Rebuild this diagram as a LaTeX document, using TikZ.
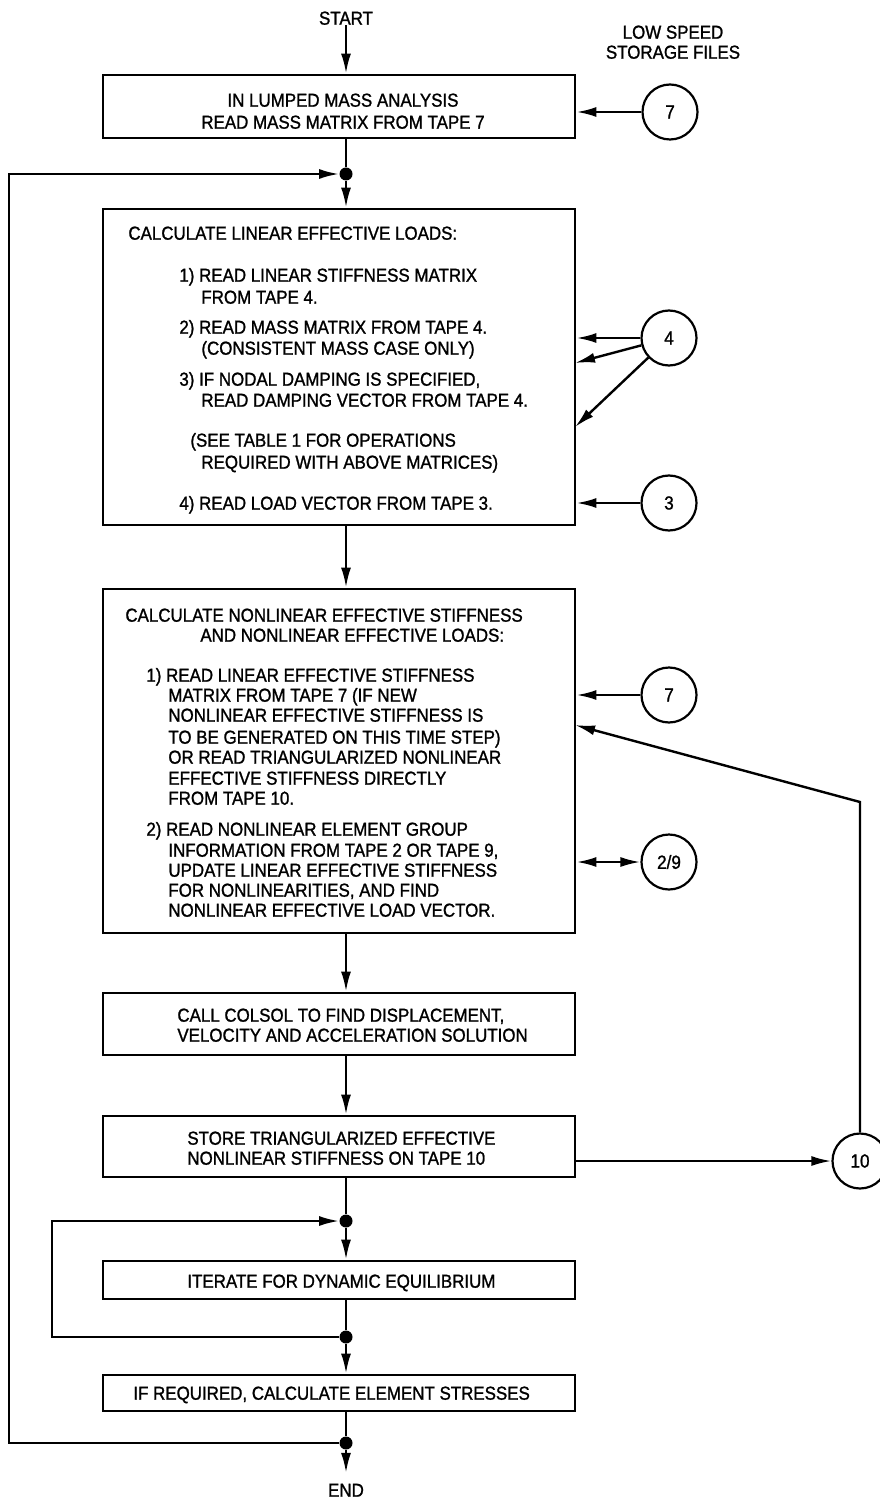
\documentclass[tikz,border=0pt]{standalone}
\usepackage{fontspec}
\setmainfont{Liberation Sans}[FakeStretch=0.9,FakeBold=1.2]
\usetikzlibrary{arrows.meta,fit,positioning}
\tikzset{
  box/.style={draw,line width=1.4pt,inner sep=0pt},
  store/.style={draw,circle,line width=1.1pt,minimum size=27.5pt,inner sep=0pt,
    font=\fontsize{9.5}{10.5}\selectfont},
  dot/.style={circle,fill,minimum size=6.5pt,inner sep=0pt},
  txt/.style={inner sep=0pt,text height=6.7pt,text depth=0pt,
    font=\fontsize{9.4}{10.5}\selectfont},
  flow/.style={line width=1.2pt,-{Latex[length=10pt,width=5pt]}},
  both/.style={line width=1.2pt,{Latex[length=10pt,width=5pt]}-{Latex[length=10pt,width=5pt]}},
  wire/.style={line width=1.2pt}
}

\begin{document}
\begin{tikzpicture}[x=0.5pt,y=-0.5pt]
  \useasboundingbox (0,0) rectangle (879,1502);
  \node[txt] (start) at (346,18) {START};
  \node[txt] (low1) at (673,32) {LOW SPEED};
  \node[txt] (low2) at (673,52) {STORAGE FILES};
  \node[txt] (end) at (346,1490) {END};

  \node[box,fit={(103,75) (575,138)}] (b1) {};
  \node[box,fit={(103,209) (575,525)}] (b2) {};
  \node[box,fit={(103,589) (575,933)}] (b3) {};
  \node[box,fit={(103,993) (575,1055)}] (b4) {};
  \node[box,fit={(103,1116) (575,1177)}] (b5) {};
  \node[box,fit={(103,1261) (575,1299)}] (b6) {};
  \node[box,fit={(103,1375) (575,1411)}] (b7) {};

  \node[txt] (t11) at (343,100) {IN LUMPED MASS ANALYSIS};
  \node[txt] (t12) at (343,122) {READ MASS MATRIX FROM TAPE 7};
  \foreach \x/\y/\t [count=\i] in {
    128/233/{CALCULATE LINEAR EFFECTIVE LOADS:},
    179/275/{1) READ LINEAR STIFFNESS MATRIX},
    201/297/{FROM TAPE 4.},
    179/327/{2) READ MASS MATRIX FROM TAPE 4.},
    201/348/{(CONSISTENT MASS CASE ONLY)},
    179/379/{3) IF NODAL DAMPING IS SPECIFIED,},
    201/400/{READ DAMPING VECTOR FROM TAPE 4.},
    190/440/{(SEE TABLE 1 FOR OPERATIONS},
    201/462/{REQUIRED WITH ABOVE MATRICES)},
    179/503/{4) READ LOAD VECTOR FROM TAPE 3.}}
    \node[txt,anchor=west] (t2\i) at (\x,\y) {\t};
  \foreach \x/\y/\t [count=\i] in {
    125/615/{CALCULATE NONLINEAR EFFECTIVE STIFFNESS},
    200/635/{AND NONLINEAR EFFECTIVE LOADS:},
    146/675/{1) READ LINEAR EFFECTIVE STIFFNESS},
    168/695/{MATRIX FROM TAPE 7 (IF NEW},
    168/715/{NONLINEAR EFFECTIVE STIFFNESS IS},
    168/737/{TO BE GENERATED ON THIS TIME STEP)},
    168/757/{OR READ TRIANGULARIZED NONLINEAR},
    168/778/{EFFECTIVE STIFFNESS DIRECTLY},
    168/798/{FROM TAPE 10.},
    146/829/{2) READ NONLINEAR ELEMENT GROUP},
    168/850/{INFORMATION FROM TAPE 2 OR TAPE 9,},
    168/870/{UPDATE LINEAR EFFECTIVE STIFFNESS},
    168/890/{FOR NONLINEARITIES, AND FIND},
    168/910/{NONLINEAR EFFECTIVE LOAD VECTOR.}}
    \node[txt,anchor=west] (t3\i) at (\x,\y) {\t};
  \node[txt,anchor=west] (t41) at (177,1015) {CALL COLSOL TO FIND DISPLACEMENT,};
  \node[txt,anchor=west] (t42) at (177,1035) {VELOCITY AND ACCELERATION SOLUTION};
  \node[txt,anchor=west] (t51) at (187,1138) {STORE TRIANGULARIZED EFFECTIVE};
  \node[txt,anchor=west] (t52) at (187,1158) {NONLINEAR STIFFNESS ON TAPE 10};
  \node[txt,anchor=west] (t6) at (187,1281) {ITERATE FOR DYNAMIC EQUILIBRIUM};
  \node[txt,anchor=west] (t7) at (133,1393) {IF REQUIRED, CALCULATE ELEMENT STRESSES};

  \node[dot] (j1) at (346,174) {};
  \node[dot] (j2) at (346,1221) {};
  \node[dot] (j3) at (346,1337) {};
  \node[dot] (j4) at (346,1443) {};
  \coordinate (o1) at (9,174);
  \coordinate (o2) at (52,1221);

  \node[store] (c7a) at (670,112) {7};
  \node[store] (c4) at (669,338) {4};
  \node[store] (c3) at (669,503) {3};
  \node[store] (c7b) at (669,695) {7};
  \node[store] (c29) at (669,862) {2/9};
  \node[store] (c10) at (860,1161) {10};
  \coordinate (q1) at (575,363);
  \coordinate (q2) at (575,427);
  \coordinate (q3) at (575,725);
  \coordinate (k) at (860,802);

  \draw[flow] (start) -- (start |- b1.north);
  \draw[wire] (b1.south -| j1) -- (j1);
  \draw[flow] (j1) -- (j1 |- b2.north);
  \draw[flow] (b2.south -| j1) -- (b3.north -| j1);
  \draw[flow] (b3.south -| j1) -- (b4.north -| j1);
  \draw[flow] (b4.south -| j1) -- (b5.north -| j1);
  \draw[wire] (b5.south -| j1) -- (j2);
  \draw[flow] (j2) -- (j2 |- b6.north);
  \draw[wire] (b6.south -| j1) -- (j3);
  \draw[flow] (j3) -- (j3 |- b7.north);
  \draw[wire] (b7.south -| j1) -- (j4);
  \draw[flow] (j4) -- ([yshift=5pt]end.north);
  \draw[flow] (j3) -| (o2) -- (j2);
  \draw[flow] (j4) -| (o1) -- (j1);

  \draw[flow] (c7a) -- (c7a -| b1.east);
  \draw[flow] (c4) -- (c4 -| b2.east);
  \draw[flow] (c4) -- (q1);
  \draw[flow] (c4) -- (q2);
  \draw[flow] (c3) -- (c3 -| b2.east);
  \draw[flow] (c7b) -- (c7b -| b3.east);
  \draw[both] (b3.east |- c29) -- (c29);
  \draw[flow] (b5.east |- c10) -- (c10);
  \draw[flow] (c10) -- (k) -- (q3);
\end{tikzpicture}
\end{document}
